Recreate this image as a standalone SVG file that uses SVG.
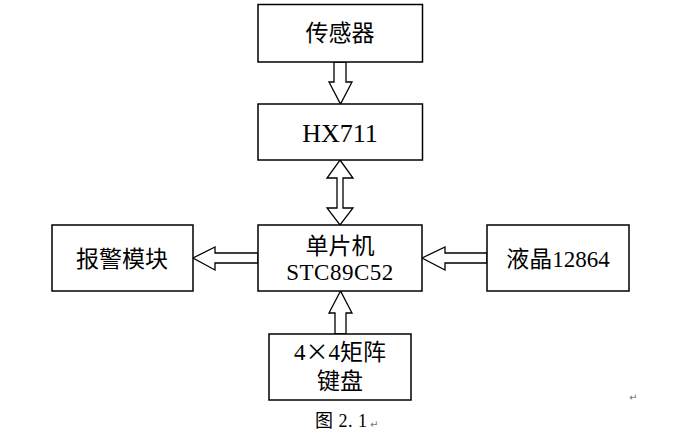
<svg xmlns="http://www.w3.org/2000/svg" width="686" height="439" viewBox="0 0 686 439">
<style>
.box{fill:#fff;stroke:#000;stroke-width:1.5}
.arr{fill:#fff;stroke:#000;stroke-width:1.3;stroke-linejoin:miter}
.t{font-family:"Liberation Serif","Noto Sans CJK SC",serif;font-size:23px;fill:#000;text-anchor:middle}
.cjk{font-family:"Noto Sans CJK SC",sans-serif}
.mark{font-family:"DejaVu Sans",sans-serif;font-size:10px;fill:#777}
</style>
<rect width="686" height="439" fill="#fff"/>
<g id="connectors">
<polygon class="arr" points="334,62 334,82 329,82 340.5,104 352,82 346,82 346,62"/>
<polygon class="arr" points="340,160 353,178 343,178 343,208 353,208 340,225 327,208 337,208 337,178 327,178"/>
<polygon class="arr" points="193,258 215,247 215,253 258,253 258,263 215,263 215,270"/>
<polygon class="arr" points="422,258 445,247 445,253 487,253 487,263 445,263 445,270"/>
<polygon class="arr" points="340.5,291 329,313 335,313 335,334 346,334 346,313 352,313"/>
</g>
<g id="sensor">
<rect class="box" x="258" y="4.5" width="164.5" height="57.5"/>
<text class="t" x="340" y="41">传感器</text>
</g>
<g id="hx711">
<rect class="box" x="258" y="104" width="164.5" height="56"/>
<text class="t" x="340" y="142" style="font-size:26px">HX711</text>
</g>
<g id="mcu">
<rect class="box" x="258" y="225" width="164" height="66"/>
<text class="t" x="340" y="254">单片机</text>
<text class="t" x="340" y="280" letter-spacing="0.5">STC89C52</text>
</g>
<g id="alarm">
<rect class="box" x="52" y="225" width="141" height="66"/>
<text class="t" x="122" y="267">报警模块</text>
</g>
<g id="lcd">
<rect class="box" x="487" y="225" width="142" height="66"/>
<text class="t" x="558" y="267">液晶12864</text>
</g>
<g id="keypad">
<rect class="box" x="269" y="334" width="142" height="66"/>
<text class="t" x="340" y="360">4<tspan class="cjk">×</tspan>4矩阵</text>
<text class="t" x="340" y="389">键盘</text>
</g>
<g id="caption">
<text x="315" y="427" style="font-family:'Liberation Serif','Noto Sans CJK SC',serif;font-size:18px" letter-spacing="0.5">图 2. 1</text>
<text class="mark" x="370" y="428">↵</text>
<text class="mark" x="629" y="401">↵</text>
</g>
</svg>
